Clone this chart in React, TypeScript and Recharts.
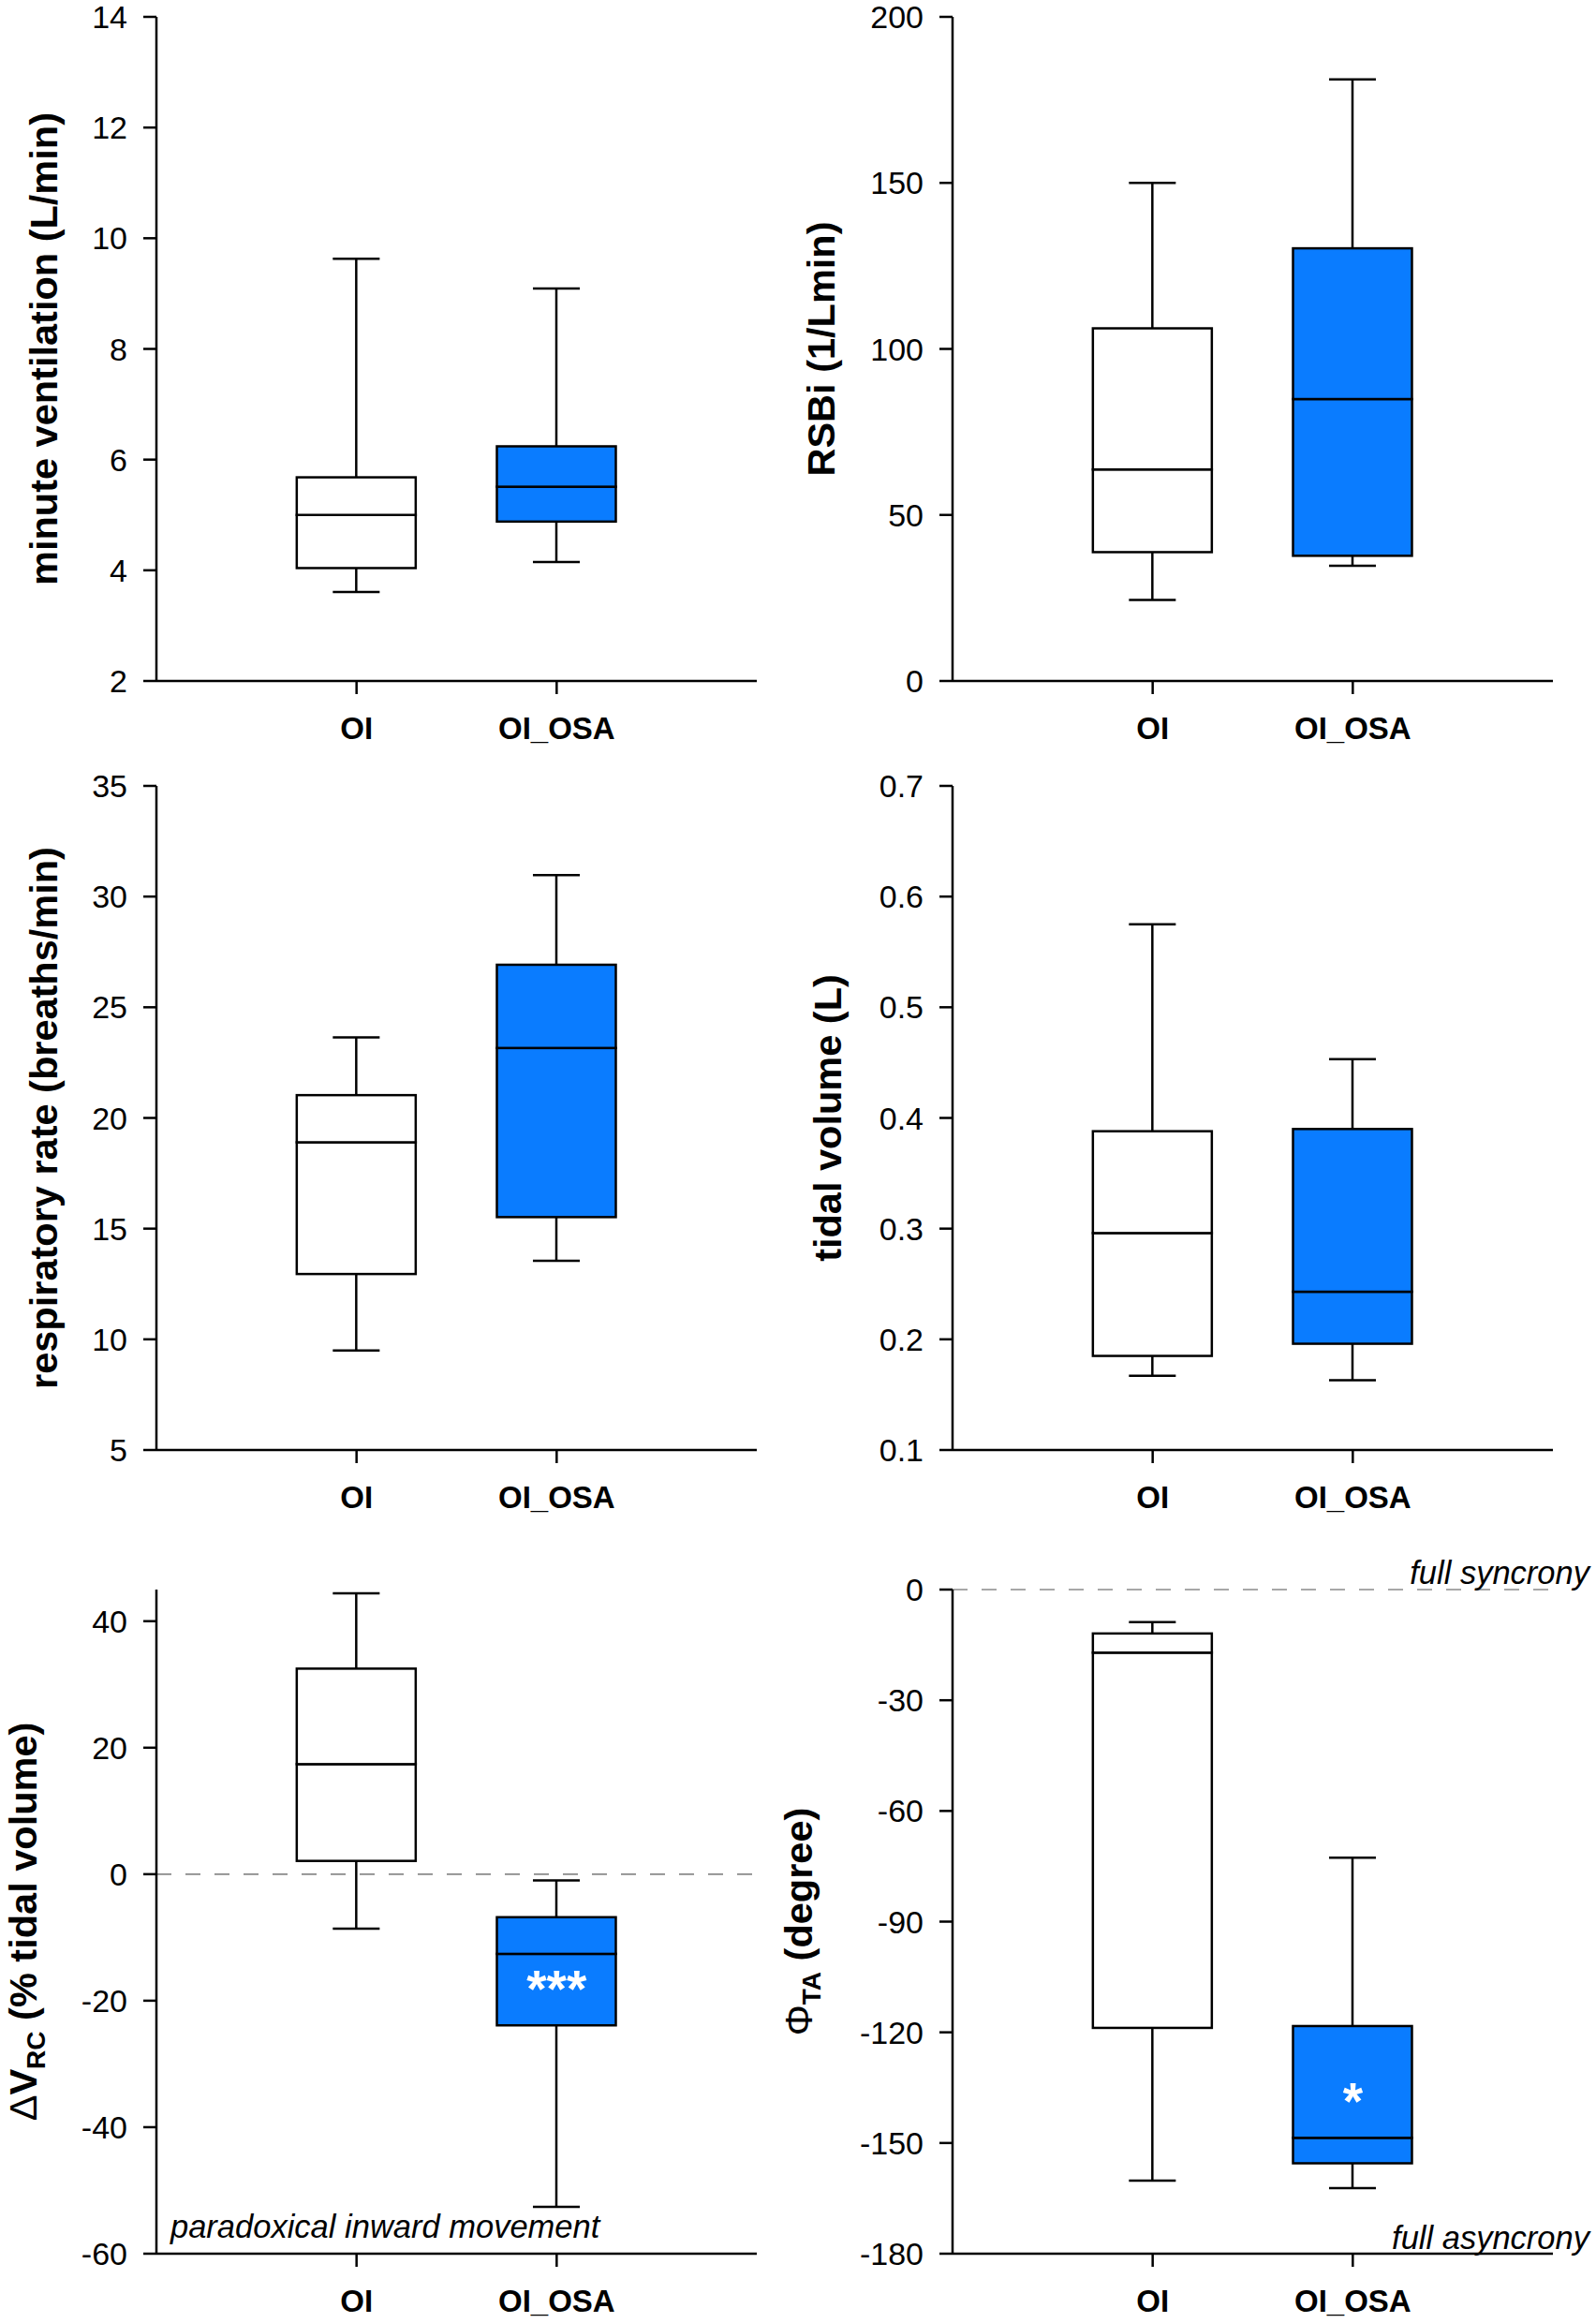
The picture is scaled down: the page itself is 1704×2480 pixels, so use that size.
import React from "react";
import {
  Bar,
  XAxis,
  YAxis,
  Label,
  ReferenceDot,
  ReferenceLine,
  ComposedChart,
} from "recharts";

// groups on the x axis
const groups = ["OI", "OI_OSA"];

// box stats per group: [min, q1, median, q3, max]
const ventilationOI = [3.61, 4.04, 5.0, 5.68, 9.63];
const ventilationOSA = [4.15, 4.88, 5.51, 6.24, 9.09];
const rsbiOI = [24.4, 38.8, 63.7, 106.2, 150];
const rsbiOSA = [34.7, 37.7, 84.9, 130.3, 181.2];
const rateOI = [9.5, 12.95, 18.9, 21.03, 23.64];
const rateOSA = [13.55, 15.52, 23.16, 26.92, 30.97];
const tidalOI = [0.167, 0.185, 0.296, 0.388, 0.575];
const tidalOSA = [0.163, 0.196, 0.243, 0.39, 0.453];
const dvrcOI = [-8.6, 2.1, 17.4, 32.5, 44.4];
const dvrcOSA = [-52.6, -23.9, -12.6, -6.8, -1.0];
const phaseOI = [-160.2, -118.8, -17.1, -11.9, -8.8];
const phaseOSA = [-162.2, -155.5, -148.6, -118.3, -72.7];

// y tick labels
const ventilationTicks = [2, 4, 6, 8, 10, 12, 14];
const rsbiTicks = [0, 50, 100, 150, 200];
const rateTicks = [5, 10, 15, 20, 25, 30, 35];
const tidalTicks = [0.1, 0.2, 0.3, 0.4, 0.5, 0.6, 0.7];
const dvrcTicks = [-60, -40, -20, 0, 20, 40];
const phaseTicks = [-180, -150, -120, -90, -60, -30, 0];

const FONT = '"Liberation Sans", Arial, Helvetica, sans-serif';
const LW = 2.5;
const BLUE = "#0a7cff";
const boxFill: Record<string, string> = { OI: "#ffffff", OI_OSA: BLUE };

const PLOT_W = 641;
const PLOT_H = 709;
const M_TOP = 60;
const M_RIGHT = 46;
const X_AXIS_H = 100;
const BAR = 127;
const NOTE_SIZE = 34.5;

const toRows = (oi: number[], osa: number[]) =>
  [oi, osa].map((s, i) => ({
    name: groups[i],
    min: s[0],
    q1: s[1],
    med: s[2],
    q3: s[3],
    max: s[4],
  }));

const whisker = (p: any, capAt: "top" | "bottom") => {
  const { x, y, width, height } = p;
  if (x == null || y == null) return <g />;
  const cx = x + width / 2;
  const top = Math.min(y, y + height);
  const bottom = Math.max(y, y + height);
  const capY = capAt === "top" ? top : bottom;
  const half = width * 0.197;
  return (
    <g>
      <line x1={cx} x2={cx} y1={top} y2={bottom} stroke="#000" strokeWidth={LW} />
      <line x1={cx - half} x2={cx + half} y1={capY} y2={capY} stroke="#000" strokeWidth={LW} />
    </g>
  );
};
const LowWhisker = (p: any) => whisker(p, "bottom");
const HighWhisker = (p: any) => whisker(p, "top");

const BoxPart = (p: any) => {
  const { x, y, width, height } = p;
  if (x == null || y == null) return <g />;
  const name = p.payload?.name ?? p.name;
  return (
    <rect
      x={x}
      y={Math.min(y, y + height)}
      width={width}
      height={Math.abs(height)}
      fill={boxFill[name] ?? "#fff"}
      stroke="#000"
      strokeWidth={LW}
    />
  );
};

const starLabel = (s: string) => (p: any) => {
  const vb = p.viewBox || { x: 0, y: 0, width: 0, height: 0 };
  return (
    <text
      x={vb.x + (vb.width || 0) / 2}
      y={vb.y + (vb.height || 0) / 2}
      dy={30}
      textAnchor="middle"
      fill="#fff"
      fontSize={55}
      fontWeight="bold"
    >
      {s}
    </text>
  );
};

const noteLabel =
  (s: string, anchor: "start" | "end", dx: number, dy: number) => (p: any) => {
    const vb = p.viewBox || { x: 0, y: 0, width: 0, height: 0 };
    const x = anchor === "start" ? vb.x + dx : vb.x + vb.width + dx;
    return (
      <text x={x} y={vb.y + dy} textAnchor={anchor} fontSize={NOTE_SIZE} fontStyle="italic" fill="#000">
        {s}
      </text>
    );
  };

interface PanelProps {
  left: number;
  top: number;
  axisW: number;
  rows: ReturnType<typeof toRows>;
  domain: [number, number];
  ticks: number[];
  fmt?: (v: number) => string;
  title: React.ReactNode;
  titleX: number;
  children?: React.ReactNode;
}

const BoxPanel = ({ left, top, axisW, rows, domain, ticks, fmt, title, titleX, children }: PanelProps) => {
  const cy = M_TOP + PLOT_H / 2;
  const TitleContent = () => (
    <text
      transform={`rotate(-90, ${titleX}, ${cy})`}
      x={titleX}
      y={cy}
      textAnchor="middle"
      fontSize={41.5}
      fontWeight="bold"
      fill="#000"
    >
      {title}
    </text>
  );
  return (
    <div style={{ position: "absolute", left, top: top - M_TOP }}>
      <ComposedChart
        width={axisW + PLOT_W + M_RIGHT}
        height={M_TOP + PLOT_H + X_AXIS_H}
        data={rows}
        margin={{ top: M_TOP, right: M_RIGHT, bottom: 0, left: 0 }}
        barSize={BAR}
        barGap={-BAR}
      >
        {children}
        <XAxis
          dataKey="name"
          type="category"
          interval={0}
          padding={{ left: PLOT_W / 6, right: PLOT_W / 6 }}
          height={X_AXIS_H}
          tickSize={14}
          tickMargin={25}
          axisLine={{ stroke: "#000", strokeWidth: LW }}
          tickLine={{ stroke: "#000", strokeWidth: LW }}
          tick={{ fill: "#000", fontSize: 33, fontWeight: "bold" }}
        />
        <YAxis
          type="number"
          width={axisW}
          domain={domain}
          ticks={ticks}
          allowDataOverflow
          interval={0}
          tickFormatter={fmt}
          tickSize={14}
          tickMargin={17}
          axisLine={{ stroke: "#000", strokeWidth: LW }}
          tickLine={{ stroke: "#000", strokeWidth: LW }}
          tick={{ fill: "#000", fontSize: 34 }}
        >
          <Label content={TitleContent} />
        </YAxis>
        <Bar dataKey={(d: any) => [d.min, d.q1]} shape={LowWhisker} isAnimationActive={false} />
        <Bar dataKey={(d: any) => [d.q3, d.max]} shape={HighWhisker} isAnimationActive={false} />
        <Bar dataKey={(d: any) => [d.q1, d.med]} shape={BoxPart} isAnimationActive={false} />
        <Bar dataKey={(d: any) => [d.med, d.q3]} shape={BoxPart} isAnimationActive={false} />
      </ComposedChart>
    </div>
  );
};

const dash = { stroke: "#8a8a8a", strokeWidth: 1.6, strokeDasharray: "16 15" };

const App = () => {
  return (
    <div
      style={{
        position: "absolute",
        left: 0,
        top: 0,
        width: 1704,
        height: 2480,
        background: "#fff",
        fontFamily: FONT,
        overflow: "hidden",
      }}
    >
      <style>{`.recharts-surface { overflow: visible; }`}</style>
      <BoxPanel
        left={0}
        top={18}
        axisW={167}
        rows={toRows(ventilationOI, ventilationOSA)}
        domain={[2, 14]}
        ticks={ventilationTicks}
        title="minute ventilation (L/min)"
        titleX={61}
      />
      <BoxPanel
        left={800}
        top={18}
        axisW={217}
        rows={toRows(rsbiOI, rsbiOSA)}
        domain={[0, 200]}
        ticks={rsbiTicks}
        title="RSBi (1/Lmin)"
        titleX={91}
      />
      <BoxPanel
        left={0}
        top={838.5}
        axisW={167}
        rows={toRows(rateOI, rateOSA)}
        domain={[5, 35]}
        ticks={rateTicks}
        title="respiratory rate (breaths/min)"
        titleX={61}
      />
      <BoxPanel
        left={800}
        top={838.5}
        axisW={217}
        rows={toRows(tidalOI, tidalOSA)}
        domain={[0.1, 0.7]}
        ticks={tidalTicks}
        fmt={(v: number) => v.toFixed(1)}
        title="tidal volume (L)"
        titleX={98}
      />
      <BoxPanel
        left={0}
        top={1697}
        axisW={167}
        rows={toRows(dvrcOI, dvrcOSA)}
        domain={[-60, 45]}
        ticks={dvrcTicks}
        title={
          <>
            <tspan fontWeight="normal">Δ</tspan>
            <tspan>V</tspan>
            <tspan fontSize={28} dy={9}>RC</tspan>
            <tspan dy={-9}> (% tidal volume)</tspan>
          </>
        }
        titleX={39}
      >
        <ReferenceLine y={0} {...dash} />
        <ReferenceLine
          y={-60}
          stroke="none"
          label={noteLabel("paradoxical inward movement", "start", 15, -17)}
        />
        <ReferenceDot x="OI_OSA" y={-16.4} r={0} label={starLabel("***")} />
      </BoxPanel>
      <BoxPanel
        left={800}
        top={1697}
        axisW={217}
        rows={toRows(phaseOI, phaseOSA)}
        domain={[-180, 0]}
        ticks={phaseTicks}
        title={
          <>
            <tspan fontWeight="normal">Φ</tspan>
            <tspan fontSize={28} dy={9}>TA</tspan>
            <tspan dy={-9}> (degree)</tspan>
          </>
        }
        titleX={67}
      >
        <ReferenceLine y={0} {...dash} label={noteLabel("full syncrony", "end", 39, -6)} />
        <ReferenceLine y={-180} stroke="none" label={noteLabel("full asyncrony", "end", 39, -5)} />
        <ReferenceDot x="OI_OSA" y={-135.8} r={0} label={starLabel("*")} />
      </BoxPanel>
    </div>
  );
};

export default App;
